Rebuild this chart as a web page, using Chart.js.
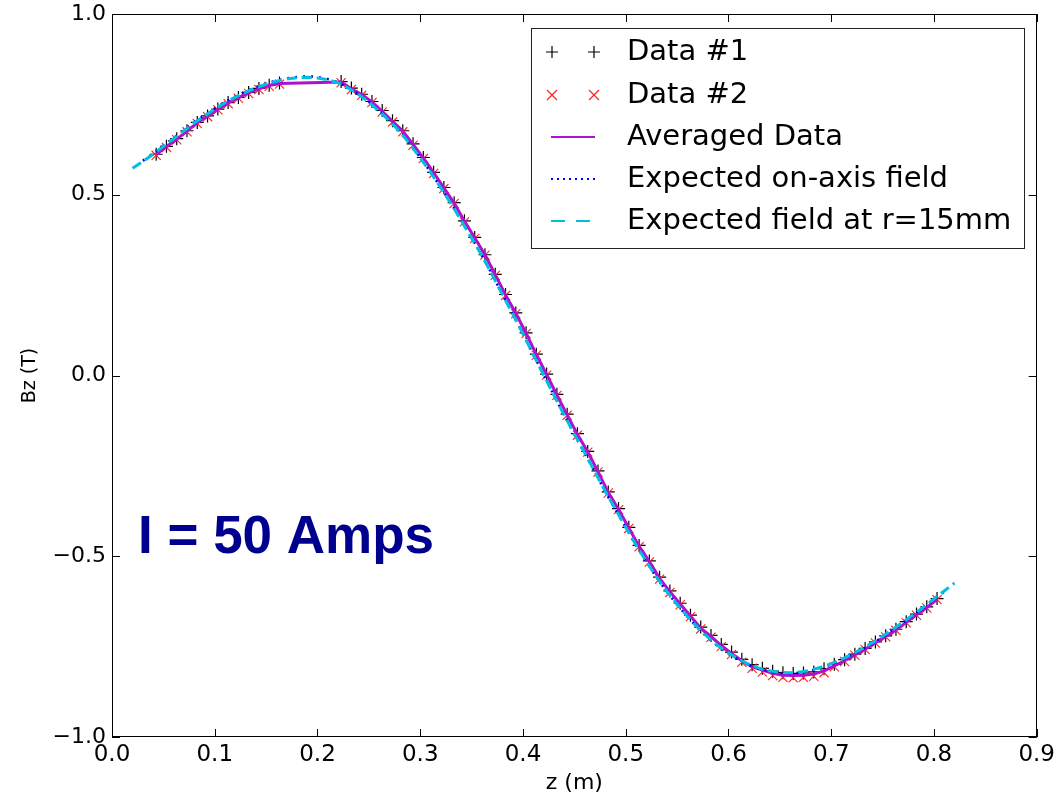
<!DOCTYPE html>
<html>
<head>
<meta charset="utf-8">
<script src="https://cdn.jsdelivr.net/npm/chart.js@4.4.1/dist/chart.umd.min.js"></script>
<style>
html,body{margin:0;padding:0;background:#fff;}
#c{display:block;}
</style>
</head>
<body>
<canvas id="c" width="1059" height="794"></canvas>
<script>
// ---- data ----
const zData = [0.043,0.053,0.063,0.073,0.083,0.093,0.103,0.113,0.123,0.133,0.143,0.153,0.163,
  0.223,0.233,0.243,0.253,0.263,0.273,0.283,0.293,0.303,0.313,0.323,0.333,0.343,0.353,0.363,0.373,
  0.383,0.393,0.403,0.413,0.423,0.433,0.443,0.453,0.463,0.473,0.483,0.493,0.503,0.513,0.523,0.533,
  0.543,0.553,0.563,0.573,0.583,0.593,0.603,0.613,0.623,0.633,0.643,0.653,0.663,0.673,0.683,0.693,
  0.703,0.713,0.723,0.733,0.743,0.753,0.763,0.773,0.783,0.793,0.803];

const data1 = [0.612,0.634,0.655,0.677,0.700,0.718,0.737,0.755,0.769,0.783,0.794,0.803,0.809,
  0.813,0.795,0.778,0.758,0.733,0.705,0.677,0.641,0.603,0.562,0.520,0.478,0.428,0.382,0.334,0.280,
  0.224,0.173,0.118,0.059,0.004,-0.052,-0.107,-0.161,-0.210,-0.264,-0.322,-0.368,-0.420,-0.470,-0.513,-0.558,
  -0.596,-0.630,-0.663,-0.696,-0.719,-0.744,-0.765,-0.785,-0.800,-0.810,-0.818,-0.822,-0.824,-0.823,-0.820,-0.811,
  -0.799,-0.786,-0.771,-0.755,-0.737,-0.720,-0.702,-0.681,-0.660,-0.640,-0.617];

const data2 = [0.609,0.631,0.652,0.674,0.697,0.716,0.735,0.752,0.767,0.780,0.791,0.800,0.806,
  0.810,0.791,0.775,0.755,0.729,0.701,0.674,0.637,0.600,0.559,0.517,0.476,0.425,0.379,0.333,0.277,
  0.221,0.171,0.116,0.056,0.001,-0.055,-0.110,-0.165,-0.212,-0.267,-0.325,-0.371,-0.423,-0.474,-0.516,-0.563,
  -0.600,-0.634,-0.667,-0.701,-0.724,-0.750,-0.772,-0.793,-0.810,-0.820,-0.830,-0.835,-0.836,-0.835,-0.832,-0.822,
  -0.806,-0.791,-0.774,-0.758,-0.740,-0.723,-0.705,-0.684,-0.663,-0.643,-0.620];

const averaged = [0.611,0.633,0.654,0.676,0.699,0.717,0.736,0.754,0.768,0.782,0.793,0.802,0.808,
  0.812,0.793,0.777,0.757,0.731,0.703,0.676,0.639,0.602,0.561,0.519,0.477,0.427,0.381,0.334,0.279,
  0.223,0.172,0.117,0.058,0.003,-0.054,-0.109,-0.163,-0.211,-0.266,-0.324,-0.370,-0.422,-0.472,-0.515,-0.561,
  -0.598,-0.632,-0.665,-0.699,-0.722,-0.747,-0.769,-0.789,-0.805,-0.815,-0.824,-0.829,-0.830,-0.829,-0.826,-0.817,
  -0.803,-0.789,-0.773,-0.757,-0.739,-0.722,-0.704,-0.683,-0.662,-0.642,-0.619];

const zExpAxis = [0.03,0.04,0.05,0.06,0.07,0.08,0.09,0.10,0.11,0.12,0.13,0.14,0.15,0.16,0.17,0.18,0.19,0.20,
  0.21,0.22,0.23,0.24,0.25,0.26,0.27,0.28,0.29,0.30,0.31,0.32,0.33,0.34,0.35,0.36,0.37,0.38,0.39,0.40,
  0.41,0.42,0.43,0.44,0.45,0.46,0.47,0.48,0.49,0.50,0.51,0.52,0.53,0.54,0.55,0.56,0.57,0.58,0.59,0.60,
  0.61,0.62,0.63,0.64,0.65,0.66,0.67,0.68,0.69,0.70,0.71,0.72,0.73,0.74,0.75,0.76,0.77,0.78,0.79,0.80,0.81];
const expAxis = [0.594,0.614,0.636,0.657,0.679,0.701,0.720,0.739,0.757,0.772,0.786,0.798,0.808,0.816,0.822,0.826,0.828,0.826,
  0.820,0.811,0.796,0.778,0.757,0.732,0.705,0.676,0.641,0.603,0.563,0.520,0.476,0.429,0.381,0.332,0.279,0.224,0.170,0.115,
  0.058,0.002,-0.054,-0.109,-0.163,-0.215,-0.267,-0.321,-0.371,-0.421,-0.470,-0.515,-0.559,-0.598,-0.634,-0.667,-0.698,-0.726,-0.750,-0.770,
  -0.787,-0.801,-0.812,-0.819,-0.823,-0.824,-0.822,-0.817,-0.809,-0.799,-0.787,-0.773,-0.758,-0.741,-0.723,-0.704,-0.684,-0.663,-0.642,-0.620,-0.598];

const zExp15 = [0.02,0.03,0.04,0.05,0.06,0.07,0.08,0.09,0.10,0.11,0.12,0.13,0.14,0.15,0.16,0.17,0.18,0.19,0.20,
  0.21,0.22,0.23,0.24,0.25,0.26,0.27,0.28,0.29,0.30,0.31,0.32,0.33,0.34,0.35,0.36,0.37,0.38,0.39,0.40,
  0.41,0.42,0.43,0.44,0.45,0.46,0.47,0.48,0.49,0.50,0.51,0.52,0.53,0.54,0.55,0.56,0.57,0.58,0.59,0.60,
  0.61,0.62,0.63,0.64,0.65,0.66,0.67,0.68,0.69,0.70,0.71,0.72,0.73,0.74,0.75,0.76,0.77,0.78,0.79,0.80,0.81,0.82];
const exp15 = [0.573,0.592,0.612,0.634,0.655,0.677,0.699,0.718,0.737,0.755,0.770,0.784,0.796,0.806,0.814,0.820,0.824,0.825,0.823,
  0.818,0.810,0.795,0.777,0.756,0.731,0.704,0.675,0.640,0.602,0.562,0.519,0.475,0.428,0.380,0.332,0.279,0.224,0.170,0.115,
  0.058,0.002,-0.054,-0.109,-0.162,-0.214,-0.266,-0.320,-0.370,-0.420,-0.469,-0.514,-0.558,-0.597,-0.633,-0.666,-0.697,-0.724,-0.748,-0.768,
  -0.785,-0.799,-0.810,-0.817,-0.821,-0.822,-0.820,-0.815,-0.807,-0.797,-0.785,-0.771,-0.756,-0.739,-0.721,-0.702,-0.682,-0.661,-0.640,-0.618,-0.596,-0.574];

const xTicks = [0.0,0.1,0.2,0.3,0.4,0.5,0.6,0.7,0.8,0.9];
const yTicks = [-1.0,-0.5,0.0,0.5,1.0];
const labels = ['Data #1','Data #2','Averaged Data','Expected on-axis field','Expected field at r=15mm'];

const pts = (xs, ys) => xs.map((x, i) => ({x: x, y: ys[i]}));

const C_BLACK = '#000000', C_RED = '#ff2020', C_MAG = '#b010d0', C_BLUE = '#0000ff', C_CYAN = '#00c0dd';
const FONT = '"DejaVu Sans", sans-serif';
const fmt = v => { const s = Number(v).toFixed(1); return s.replace('-', '\u2212'); };

const decorations = {
  id: 'decorations',
  afterDraw(chart) {
    const ctx = chart.ctx, a = chart.chartArea;
    const xs = chart.scales.x, ys = chart.scales.y;
    ctx.save();
    // spines
    ctx.strokeStyle = '#000'; ctx.lineWidth = 1;
    ctx.strokeRect(Math.round(a.left) + 0.5, Math.round(a.top) + 0.5, Math.round(a.right - a.left) - 1, Math.round(a.bottom - a.top) - 1);
    // inward ticks on all sides
    const TL = 8;
    ctx.beginPath();
    xTicks.forEach(t => {
      const px = Math.round(xs.getPixelForValue(t)) + 0.5;
      ctx.moveTo(px, a.bottom); ctx.lineTo(px, a.bottom - TL);
      ctx.moveTo(px, a.top); ctx.lineTo(px, a.top + TL);
    });
    yTicks.forEach(t => {
      const py = Math.round(ys.getPixelForValue(t)) + 0.5;
      ctx.moveTo(a.left, py); ctx.lineTo(a.left + TL, py);
      ctx.moveTo(a.right, py); ctx.lineTo(a.right - TL, py);
    });
    ctx.stroke();

    // axis titles
    ctx.fillStyle = '#000';
    ctx.font = '22px ' + FONT;
    ctx.textAlign = 'center'; ctx.textBaseline = 'middle';
    ctx.fillText('z (m)', (a.left + a.right) / 2, 783);
    ctx.save();
    ctx.translate(30, (a.top + a.bottom) / 2);
    ctx.rotate(-Math.PI / 2);
    ctx.font = '19px ' + FONT;
    ctx.fillText('Bz (T)', 0, 0);
    ctx.restore();

    // annotation
    ctx.fillStyle = '#00008f';
    ctx.font = 'bold 53px "Liberation Sans", Arial, sans-serif';
    ctx.textAlign = 'left'; ctx.textBaseline = 'alphabetic';
    ctx.fillText('I = 50 Amps', 138, 553);

    // legend
    const L = 531.5, T = 28.5, W = 493, H = 220;
    ctx.fillStyle = '#fff';
    ctx.fillRect(L, T, W, H);
    ctx.strokeStyle = '#222'; ctx.lineWidth = 1;
    ctx.strokeRect(L, T, W, H);
    const rows = [52, 95, 137, 179, 221];
    const m1 = 552, m2 = 594;
    const drawPlus = (x, y, r, col) => { ctx.strokeStyle = col; ctx.lineWidth = 1.2; ctx.beginPath(); ctx.moveTo(x - r, y); ctx.lineTo(x + r, y); ctx.moveTo(x, y - r); ctx.lineTo(x, y + r); ctx.stroke(); };
    const drawX = (x, y, r, col) => { ctx.strokeStyle = col; ctx.lineWidth = 1.2; ctx.beginPath(); ctx.moveTo(x - r, y - r); ctx.lineTo(x + r, y + r); ctx.moveTo(x - r, y + r); ctx.lineTo(x + r, y - r); ctx.stroke(); };
    drawPlus(m1, rows[0], 6, C_BLACK); drawPlus(m2, rows[0], 6, C_BLACK);
    drawX(m1, rows[1], 5, C_RED); drawX(m2, rows[1], 5, C_RED);
    ctx.setLineDash([]);
    ctx.strokeStyle = C_MAG; ctx.lineWidth = 2;
    ctx.beginPath(); ctx.moveTo(551, rows[2]); ctx.lineTo(595, rows[2]); ctx.stroke();
    ctx.strokeStyle = C_BLUE; ctx.lineWidth = 2; ctx.setLineDash([2, 4]);
    ctx.beginPath(); ctx.moveTo(551, rows[3]); ctx.lineTo(595, rows[3]); ctx.stroke();
    ctx.strokeStyle = C_CYAN; ctx.lineWidth = 2; ctx.setLineDash([14, 11]);
    ctx.beginPath(); ctx.moveTo(551, rows[4]); ctx.lineTo(595, rows[4]); ctx.stroke();
    ctx.setLineDash([]);
    ctx.fillStyle = '#000';
    ctx.font = '29px ' + FONT;
    ctx.textAlign = 'left'; ctx.textBaseline = 'middle';
    labels.forEach((t, i) => ctx.fillText(t, 627, rows[i]));
    ctx.restore();
  }
};

new Chart(document.getElementById('c'), {
  type: 'scatter',
  data: {
    datasets: [
      { label: labels[0], data: pts(zData, data1), showLine: false, pointStyle: 'cross', pointRadius: 6.5,
        borderColor: C_BLACK, backgroundColor: C_BLACK, pointBorderWidth: 1.2, order: 5 },
      { label: labels[1], data: pts(zData, data2), showLine: false, pointStyle: 'crossRot', pointRadius: 6.5,
        borderColor: C_RED, backgroundColor: C_RED, pointBorderWidth: 1.1, order: 4 },
      { label: labels[2], data: pts(zData, averaged), showLine: true, pointRadius: 0, borderColor: C_MAG,
        borderWidth: 3, tension: 0, order: 3 },
      { label: labels[3], data: pts(zExpAxis, expAxis), showLine: true, pointRadius: 0, borderColor: C_BLUE,
        borderWidth: 2.5, borderDash: [2, 6], tension: 0, order: 2 },
      { label: labels[4], data: pts(zExp15, exp15), showLine: true, pointRadius: 0, borderColor: C_CYAN,
        borderWidth: 3, borderDash: [10, 5], tension: 0, order: 1 }
    ]
  },
  options: {
    responsive: false,
    animation: false,
    devicePixelRatio: 1,
    layout: { padding: { top: 14, right: 20, left: 0, bottom: 0 } },
    plugins: { legend: { display: false }, tooltip: { enabled: false } },
    scales: {
      x: {
        type: 'linear', min: 0, max: 0.9,
        afterBuildTicks: s => { s.ticks = xTicks.map(v => ({ value: v })); },
        afterFit: s => { s.height = 57; },
        grid: { display: false, drawTicks: false },
        border: { display: false },
        ticks: { color: '#000', padding: 4, font: { family: FONT, size: 23 }, callback: v => fmt(v), maxRotation: 0, autoSkip: false }
      },
      y: {
        type: 'linear', min: -1, max: 1,
        afterBuildTicks: s => { s.ticks = yTicks.map(v => ({ value: v })); },
        afterFit: s => { s.width = 112; s.paddingTop = 0; s.paddingBottom = 0; },
        grid: { display: false, drawTicks: false },
        border: { display: false },
        ticks: { color: '#000', padding: 6, font: { family: FONT, size: 22, lineHeight: 1.0 }, callback: v => fmt(v) }
      }
    }
  },
  plugins: [decorations]
});
</script>
</body>
</html>
